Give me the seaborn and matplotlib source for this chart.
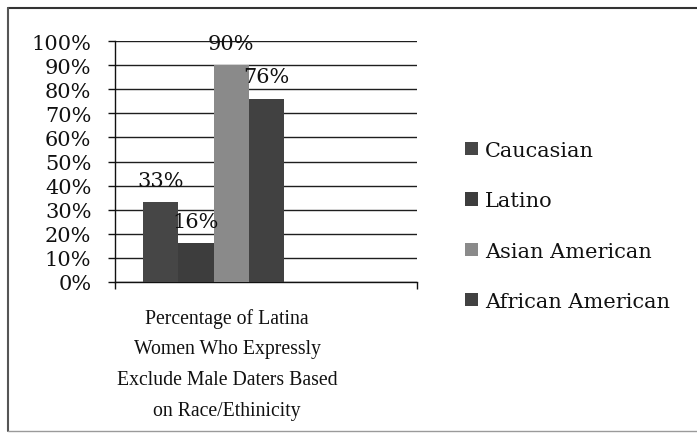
import matplotlib
matplotlib.use("Agg")
import matplotlib.pyplot as plt
from matplotlib.lines import Line2D
from matplotlib.ticker import PercentFormatter, MultipleLocator
import seaborn as sns
import pandas as pd

# Survey result: share of Latina women who exclude male daters of each group
groups = ["Caucasian", "Latino", "Asian American", "African American"]
shares = [33, 16, 90, 76]
category = ("Percentage of Latina\nWomen Who Expressly\n"
            "Exclude Male Daters Based\non Race/Ethinicity")
bar_colors = ["#464646", "#3d3d3d", "#8a8a8a", "#414141"]

df = pd.DataFrame({"category": [category] * len(groups),
                   "group": groups,
                   "share": shares})

sns.set_theme(style="white")
plt.rcParams["font.family"] = ["DejaVu Serif"]

W, H = 697, 435
fig = plt.figure(figsize=(W / 100, H / 100), dpi=100)
ax = fig.add_axes([115 / W, (H - 283) / H, (417 - 115) / W, (283 - 42) / H])

sns.barplot(data=df, x="category", y="share", hue="group",
            hue_order=groups, palette=bar_colors, saturation=1,
            width=0.8, ax=ax, zorder=3, linewidth=0)

# value labels above each bar
for cont in ax.containers:
    ax.bar_label(cont, fmt="%.0f%%", padding=9, fontsize=15,
                 color="#111111", zorder=4)

# axes: 0-100 % with gridlines every 10 %
ax.set_ylim(0, 100)
ax.yaxis.set_major_locator(MultipleLocator(10))
ax.yaxis.set_major_formatter(PercentFormatter(100, decimals=0))
ax.grid(axis="y", color="#1e1e1e", linewidth=1.0, zorder=0)
ax.set_axisbelow(True)

xl = (-0.559, 1.154)
ax.set_xlim(*xl)
ax.set_xticks(list(xl))
ax.set_xticklabels(["", ""])

for side in ("top", "right"):
    ax.spines[side].set_visible(False)
for side in ("left", "bottom"):
    ax.spines[side].set_color("#111111")
    ax.spines[side].set_linewidth(1.0)

ax.tick_params(axis="y", which="major", direction="out", length=5,
               width=1.0, color="#111111", pad=12, labelsize=15,
               labelcolor="#111111", left=True)
ax.tick_params(axis="x", which="major", direction="out", length=5,
               width=1.0, color="#111111", bottom=True)

ax.set_ylabel("")
ax.set_xlabel(category, fontsize=14.2, family="Liberation Serif",
              color="#111111", linespacing=1.85)
ax.xaxis.set_label_coords(0.371, -0.34)
ax.xaxis.label.set_va("center")

# legend to the right of the plot area
handles, labels = ax.get_legend_handles_labels()
ax.legend(handles, labels, loc="center left",
          bbox_to_anchor=(465 / W, (H - 227) / H),
          bbox_transform=fig.transFigure, frameon=False,
          fontsize=15, handlelength=0.6, handleheight=0.6,
          handletextpad=0.35, labelspacing=1.5, borderpad=0,
          borderaxespad=0, labelcolor="#111111")

# chart border
fig.add_artist(Line2D([8 / W, 1.0], [(H - 9) / H, (H - 9) / H],
                      transform=fig.transFigure, color="#333333", lw=1.5))
fig.add_artist(Line2D([8 / W, 8 / W], [(H - 9) / H, (H - 432) / H],
                      transform=fig.transFigure, color="#555555", lw=1.5))
fig.add_artist(Line2D([8 / W, 1.0], [(H - 432) / H, (H - 432) / H],
                      transform=fig.transFigure, color="#9a9a9a", lw=1.0))

fig.savefig("out.png", dpi=100)
